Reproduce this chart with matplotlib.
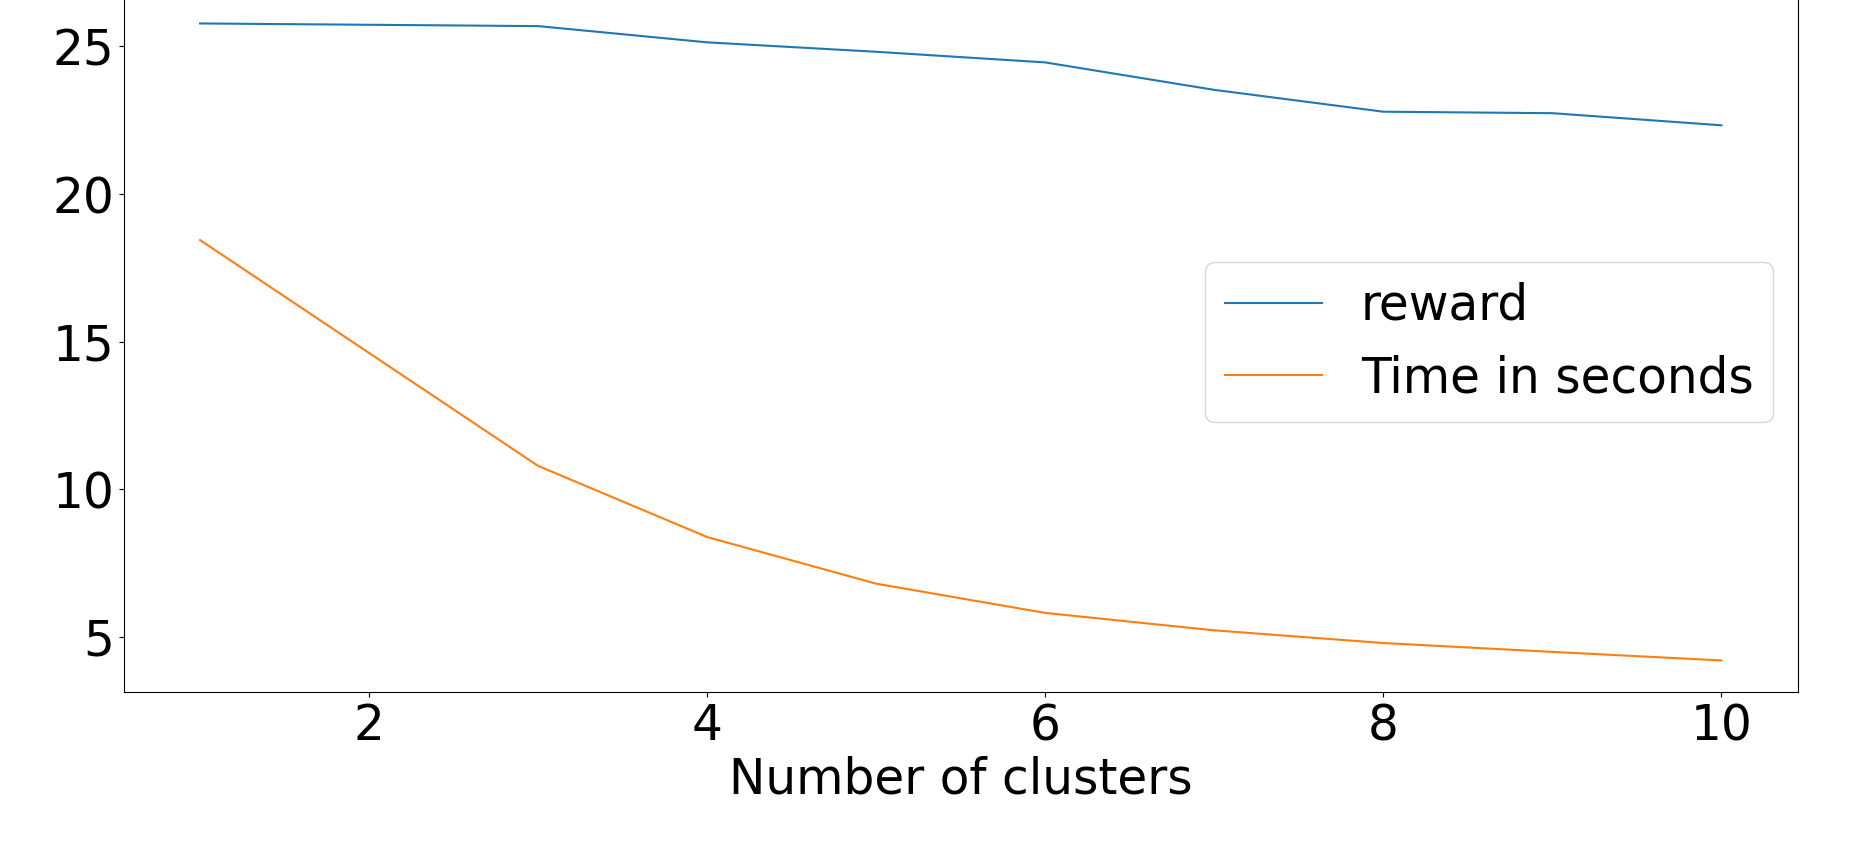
import matplotlib
matplotlib.use("Agg")
import matplotlib.pyplot as plt

clusters = [1, 3, 4, 5, 6, 7, 8, 9, 10]
reward = [25.78, 25.69, 25.14, 24.82, 24.46, 23.53, 22.79, 22.74, 22.33]
time_seconds = [18.44, 10.79, 8.38, 6.80, 5.81, 5.22, 4.79, 4.49, 4.20]

def main():
    fig = plt.figure(figsize=(18.5, 8.56), dpi=100)
    ax = fig.add_axes([124 / 1850, (856 - 692.3) / 856, (1797.5 - 124) / 1850, (692.3 + 8.4) / 856])
    ax.plot(clusters, reward, label="reward")
    ax.plot(clusters, time_seconds, label="Time in seconds")
    ax.set_xlabel("Number of clusters", fontsize=35)
    ax.tick_params(labelsize=35)
    ax.legend(loc="center right", fontsize=35)
    fig.savefig("out.png", dpi=100)
    plt.close(fig)

if __name__ == "__main__":
    main()
